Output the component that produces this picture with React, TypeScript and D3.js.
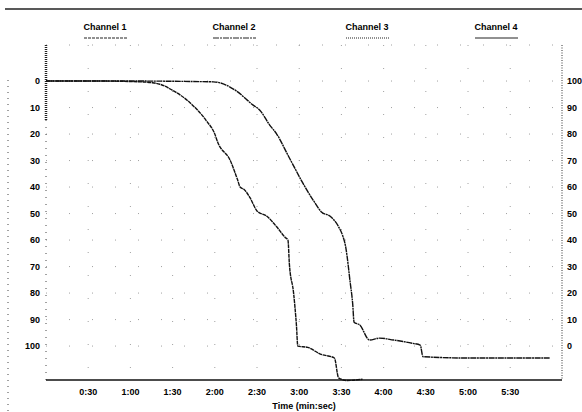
import React from 'react';
import * as d3 from 'd3';

// time in seconds, value in % (left axis, 0 at top)
const channel1Time = [0, 38, 67, 75, 81, 90, 102, 114, 120, 122, 131, 136, 138, 141, 145, 150, 157, 164, 170, 172, 173, 176, 178, 179, 186, 195, 205, 208, 214, 225];
const channel1Value = [0, 0, 0.3, 0.6, 1.2, 3.5, 8, 15, 20, 23, 30, 37, 40, 41, 44, 49, 51, 55, 59, 60, 69, 80, 92, 100, 100.5, 103, 104.5, 112, 113, 112.5];

const channel2Time = [0, 60, 119, 128, 136, 147, 152, 159, 164, 172, 176, 181, 190, 196, 202, 208, 211, 213, 214, 216, 218, 219, 223, 230, 237, 247, 261, 266, 268, 300, 358];
const channel2Value = [0, 0, 0.3, 1.5, 4, 9, 11, 16.6, 20, 28, 32, 37, 45, 49.5, 51, 55, 58.5, 62.5, 66, 75, 84, 91, 92, 97.7, 97, 97.7, 99, 99.6, 104, 104.5, 104.5];

const channelNames = ['Channel 1', 'Channel 2', 'Channel 3', 'Channel 4'];
const timeTicks = [30, 60, 90, 120, 150, 180, 210, 240, 270, 300, 330];
const leftTicks = [0, 10, 20, 30, 40, 50, 60, 70, 80, 90, 100];
const rightTicks = [100, 90, 80, 70, 60, 50, 40, 30, 20, 10, 0];

const W = 582;
const H = 412;
const FONT = '"Liberation Sans", Arial, sans-serif';

function fmtTime(s: number) {
  const m = Math.floor(s / 60);
  const sec = s % 60;
  return `${m}:${sec < 10 ? '0' + sec : sec}`;
}

export default function App() {
  const left = 46, right = 562, top = 45, bottom = 380;

  const x = d3.scaleLinear().domain([0, 366.8]).range([left, right]);
  const y = d3.scaleLinear().domain([-13.6, 112.8]).range([top, bottom]);
  const yRight = d3.scaleLinear().domain([113.6, -12.8]).range([top, bottom]);

  const line = d3.line<[number, number]>()
    .x(d => x(d[0]))
    .y(d => y(d[1]))
    .curve(d3.curveMonotoneX);

  const ch1 = channel1Time.map((t, i) => [t, channel1Value[i]] as [number, number]);
  const ch2 = channel2Time.map((t, i) => [t, channel2Value[i]] as [number, number]);

  const legendX = [105, 234, 367, 496];
  const legendDash = ['3,1', '6,1,2,1', '1,1', 'none'];

  return (
    <svg width={W} height={H} style={{ position: 'absolute', left: 0, top: 0, background: '#fff' }} fontFamily={FONT}>
      {/* top rule */}
      <line x1={5} x2={W} y1={9} y2={9} stroke="#222" strokeWidth={1.5} />

      {/* legend */}
      {channelNames.map((name, i) => (
        <g key={name}>
          <text x={legendX[i]} y={30} fontSize={9} fontWeight="bold" textAnchor="middle" fill="#000">{name}</text>
          <line x1={legendX[i] - 21} x2={legendX[i] + 22} y1={38} y2={38} stroke="#222" strokeWidth={1}
            strokeDasharray={legendDash[i]} />
        </g>
      ))}

      {/* sparse dotted grid */}
      <g stroke="#555" strokeWidth={1} strokeDasharray="1,22" opacity={0.55}>
        {timeTicks.map(t => (
          <line key={'v' + t} x1={x(t)} x2={x(t)} y1={top} y2={bottom} />
        ))}
        {leftTicks.map(v => (
          <line key={'h' + v} x1={left} x2={right} y1={y(v)} y2={y(v)} />
        ))}
        <line x1={left} x2={right} y1={top} y2={top} />
      </g>

      {/* far left dotted line */}
      <line x1={8} x2={8} y1={80} y2={H} stroke="#444" strokeDasharray="1,5" />

      {/* left axis */}
      <line x1={left} x2={left} y1={top} y2={120} stroke="#222" strokeWidth={2.5} strokeDasharray="1,1" />
      <line x1={left} x2={left} y1={120} y2={bottom} stroke="#444" strokeDasharray="1,6" />
      {/* right axis */}
      <line x1={right} x2={right} y1={top} y2={bottom} stroke="#333" strokeDasharray="1,1.5" />
      {/* bottom axis */}
      <line x1={left} x2={right} y1={bottom} y2={bottom} stroke="#111" strokeWidth={1.3} />

      {leftTicks.map(v => (
        <text key={'l' + v} x={40} y={y(v)} dy="0.35em" fontSize={9} fontWeight="bold" textAnchor="end" fill="#000">{v}</text>
      ))}
      {rightTicks.map(v => (
        <text key={'r' + v} x={567} y={yRight(v)} dy="0.35em" fontSize={9} fontWeight="bold" textAnchor="start" fill="#000">{v}</text>
      ))}
      {timeTicks.map(t => (
        <text key={'t' + t} x={x(t)} y={395} fontSize={9} fontWeight="bold" textAnchor="middle" fill="#000">{fmtTime(t)}</text>
      ))}
      <text x={304} y={409} fontSize={9} fontWeight="bold" textAnchor="middle" fill="#000">Time (min:sec)</text>

      {/* data */}
      <path d={line(ch1) || ''} fill="none" stroke="#111" strokeWidth={1.4} strokeDasharray="4,0.6" />
      <path d={line(ch2) || ''} fill="none" stroke="#111" strokeWidth={1.4} strokeDasharray="6,0.6,2,0.6" />
    </svg>
  );
}
